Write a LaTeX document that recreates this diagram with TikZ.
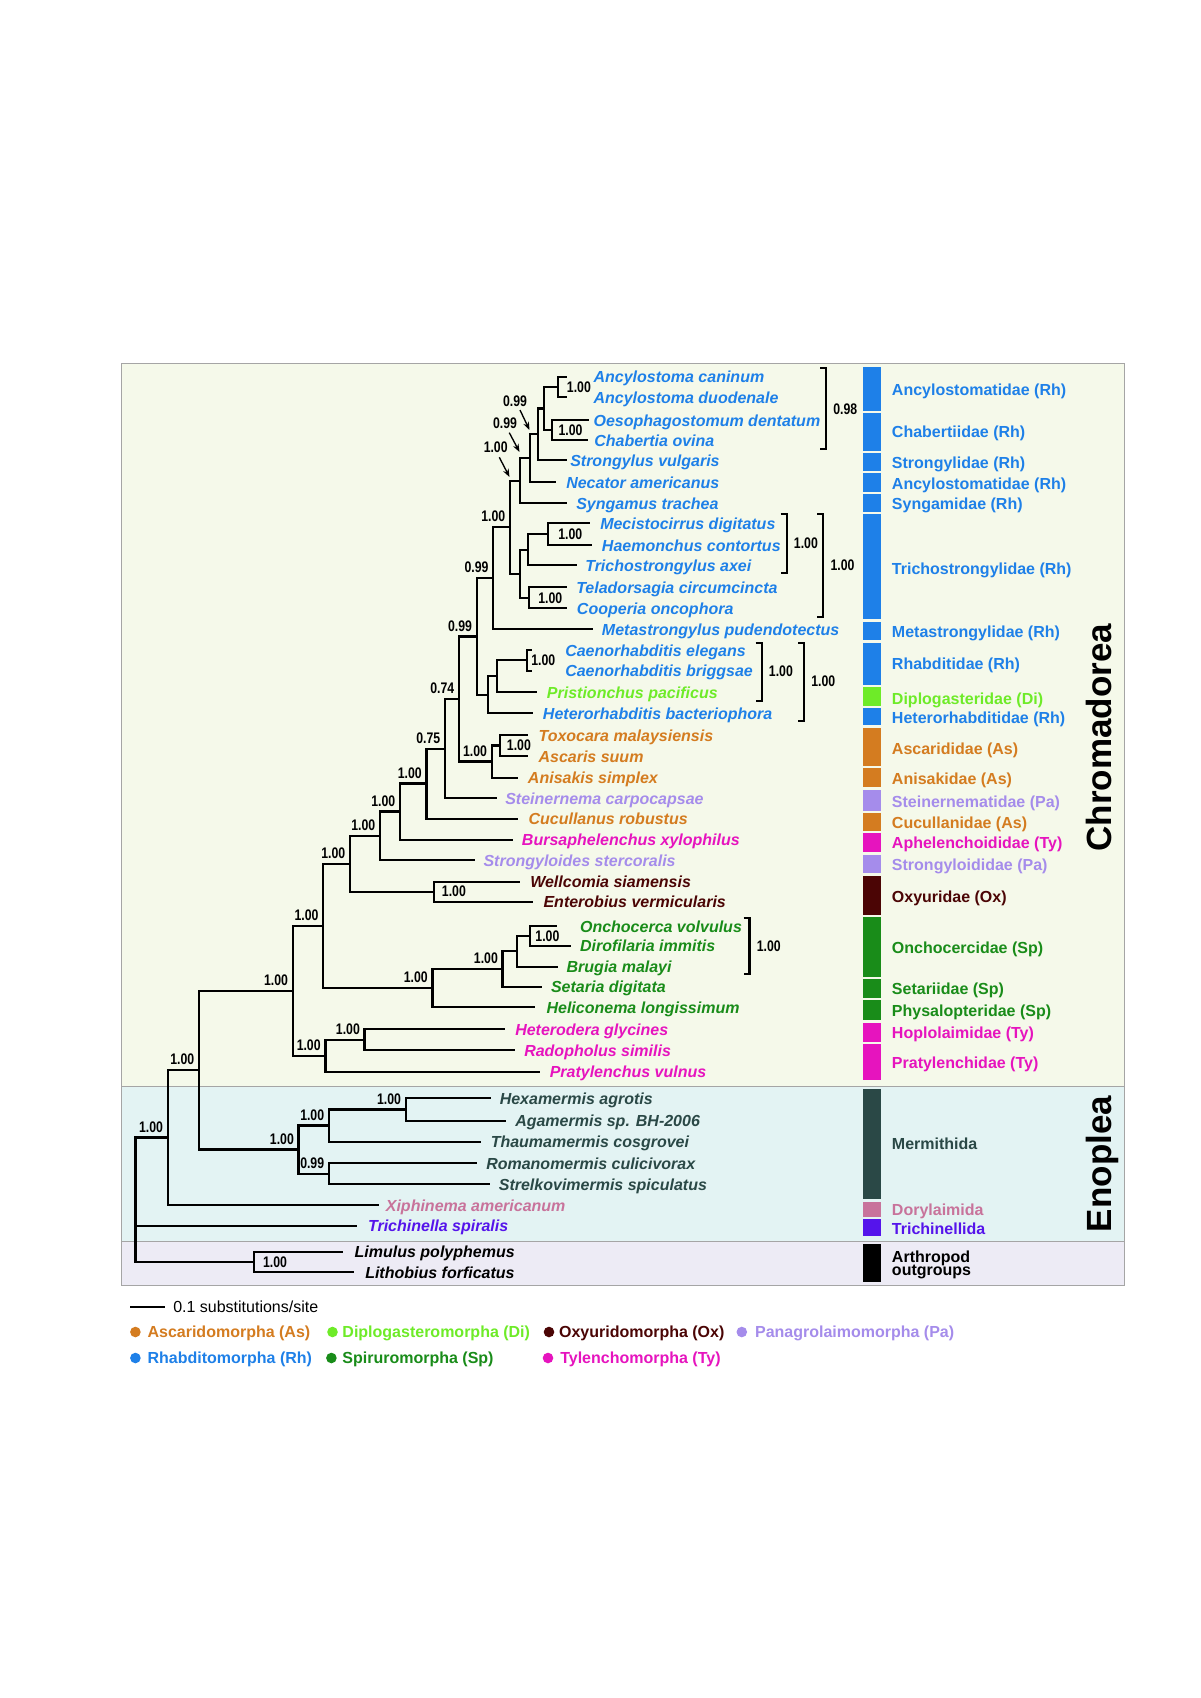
\documentclass[tikz,border=0pt]{standalone}
\usepackage{fontspec}
\setmainfont{Liberation Sans}
\newfontfamily\nrw[FakeStretch=0.8]{Liberation Sans}
\usetikzlibrary{arrows.meta}
\definecolor{rh}{RGB}{30,128,232}
\definecolor{di}{RGB}{110,235,40}
\definecolor{as}{RGB}{212,124,32}
\definecolor{pa}{RGB}{165,140,235}
\definecolor{ty}{RGB}{230,20,190}
\definecolor{ox}{RGB}{75,5,5}
\definecolor{sp}{RGB}{25,140,25}
\definecolor{me}{RGB}{42,72,70}
\definecolor{dor}{RGB}{200,115,155}
\definecolor{tri}{RGB}{85,20,235}
\definecolor{bgc}{RGB}{245,249,234}
\definecolor{bge}{RGB}{227,243,243}
\definecolor{bgo}{RGB}{237,235,245}
\definecolor{pgray}{RGB}{165,165,165}
\newcommand\tipn[6]{\coordinate (t#1) at (#2,#3); \node[tax,text=#5] (n#1) at (#4,#3+6) {#6};}
\newcommand\famb[6]{\fill[#3] (862.7,#1) rectangle (880.7,#2); \node[fam,text=#3] (#6) at (891.7,#4+5.8) {#5};}
\newcommand\sel[2]{\node[sup,anchor=south east] (s#1) at ([shift={(-4.5,-5)}]#1) {#2};}
\newcommand\ril[3]{\node[sup,anchor=west] (r#1) at ([shift={(#3,0)}]#1) {#2};}
\newcommand\brk[5]{\coordinate (b#1a) at (#2,#3); \coordinate (b#1b) at (#2,#4);
  \draw[brl] ([xshift=-4.5pt]b#1a) -- (b#1a) -- (b#1b) -- ([xshift=-4.5pt]b#1b);
  \node[sup,anchor=west] (bl#1) at (#2+7,{(#3+#4)/2}) {#5};}
\begin{document}
\begin{tikzpicture}[x=0.75pt,y=-0.75pt,
  br/.style={line width=1.75pt,line join=miter},
  brl/.style={line width=1.75pt},
  tax/.style={anchor=base west,inner sep=0pt,font=\bfseries\itshape\fontsize{12}{14}\selectfont},
  fam/.style={anchor=base west,inner sep=0pt,font=\bfseries\fontsize{12}{14}\selectfont},
  sup/.style={inner sep=0pt,font=\nrw\bfseries\fontsize{11.5}{13}\selectfont},
  arr/.style={line width=1pt,-{Stealth[length=6pt,width=4.5pt]}},
  leg/.style={anchor=base west,inner sep=0pt,font=\bfseries\fontsize{12}{14}\selectfont},
  big/.style={inner sep=0pt,anchor=base,rotate=90,font=\bfseries\fontsize{26.25}{30}\selectfont}]
\useasboundingbox (0,0) rectangle (1200,1698);
\fill[white] (0,0) rectangle (1200,1698);
% panels
\filldraw[fill=bgc,draw=pgray,line width=0.75pt] (121.5,363.9) rectangle (1124.2,1086);
\filldraw[fill=bge,draw=pgray,line width=0.75pt] (121.5,1086) rectangle (1124.2,1241);
\filldraw[fill=bgo,draw=pgray,line width=0.75pt] (121.5,1241) rectangle (1124.2,1285.6);
% tips
\tipn{1}{566.7}{376.7}{593.3}{rh}{Ancylostoma caninum}
\tipn{2}{566.7}{397.3}{593.3}{rh}{Ancylostoma duodenale}
\tipn{3}{589}{420}{593.3}{rh}{Oesophagostomum dentatum}
\tipn{4}{588}{440}{594}{rh}{Chabertia ovina}
\tipn{5}{566.7}{460}{570}{rh}{Strongylus vulgaris}
\tipn{6}{556}{482.3}{566}{rh}{Necator americanus}
\tipn{7}{566.7}{503.3}{576}{rh}{Syngamus trachea}
\tipn{8}{590}{523.3}{600}{rh}{Mecistocirrus digitatus}
\tipn{9}{591.7}{545.3}{601.7}{rh}{Haemonchus contortus}
\tipn{10}{576.7}{565}{585}{rh}{Trichostrongylus axei}
\tipn{11}{566.7}{587.3}{576}{rh}{Teladorsagia circumcincta}
\tipn{12}{566.7}{608.3}{576.7}{rh}{Cooperia oncophora}
\tipn{13}{593.3}{629.3}{601.7}{rh}{Metastrongylus pudendotectus}
\tipn{14}{532}{650}{565}{rh}{Caenorhabditis elegans}
\tipn{15}{532}{670.7}{565}{rh}{Caenorhabditis briggsae}
\tipn{16}{537.3}{692.3}{546.7}{di}{Pristionchus pacificus}
\tipn{17}{533.3}{713.3}{542.7}{rh}{Heterorhabditis bacteriophora}
\tipn{18}{528.3}{735}{538.3}{as}{Toxocara malaysiensis}
\tipn{19}{528.3}{756}{538.3}{as}{Ascaris suum}
\tipn{20}{518.3}{777.7}{527.7}{as}{Anisakis simplex}
\tipn{21}{496.7}{798.3}{505}{pa}{Steinernema carpocapsae}
\tipn{22}{518.3}{818.7}{528.3}{as}{Cucullanus robustus}
\tipn{23}{513.3}{839.7}{521.7}{ty}{Bursaphelenchus xylophilus}
\tipn{24}{475}{860}{483.3}{pa}{Strongyloides stercoralis}
\tipn{25}{520}{881.7}{530}{ox}{Wellcomia siamensis}
\tipn{26}{533.3}{901.7}{543.3}{ox}{Enterobius vermicularis}
\tipn{27}{556.6}{926}{579.8}{sp}{Onchocerca volvulus}
\tipn{28}{570.9}{945.7}{579.8}{sp}{Dirofilaria immitis}
\tipn{29}{557.5}{966.7}{566.4}{sp}{Brugia malayi}
\tipn{30}{541.9}{986.7}{550.8}{sp}{Setaria digitata}
\tipn{31}{535.2}{1007.3}{546.3}{sp}{Heliconema longissimum}
\tipn{32}{504.8}{1029.3}{515}{ty}{Heterodera glycines}
\tipn{33}{515}{1050}{524}{ty}{Radopholus similis}
\tipn{34}{539.6}{1071.7}{549.5}{ty}{Pratylenchus vulnus}
\tipn{35}{490.5}{1098.3}{499.5}{me}{Hexamermis agrotis}
\tipn{36}{506.2}{1120.7}{515}{me}{Agamermis sp. BH-2006}
\tipn{37}{480.7}{1141.7}{490.5}{me}{Thaumamermis cosgrovei}
\tipn{38}{477.1}{1163.3}{486}{me}{Romanomermis culicivorax}
\tipn{39}{489.6}{1184}{498.6}{me}{Strelkovimermis spiculatus}
\tipn{40}{378.9}{1205}{385.6}{dor}{Xiphinema americanum}
\tipn{41}{356.6}{1225.7}{367.8}{tri}{Trichinella spiralis}
\tipn{42}{343.2}{1251.7}{354.4}{black}{Limulus polyphemus}
\tipn{43}{354.4}{1272.3}{365}{black}{Lithobius forficatus}
% internal nodes
\coordinate (A) at (557.7,387);
\coordinate (B) at (551.7,430);
\coordinate (C) at (544,408.5);
\coordinate (D) at (538.3,434);
\coordinate (E) at (530,458);
\coordinate (F) at (520,480.8);
\coordinate (MH) at (548.3,534.3);
\coordinate (MHT) at (528.3,549.7);
\coordinate (TC) at (529.3,597.8);
\coordinate (TR) at (520,573.7);
\coordinate (G) at (510,527.2);
\coordinate (H) at (493.3,578.3);
\coordinate (CE) at (526.7,660.3);
\coordinate (CP) at (497.3,676.3);
\coordinate (CH) at (488.3,694.8);
\coordinate (I) at (476.7,636.5);
\coordinate (TA) at (500,745.5);
\coordinate (TAA) at (491.7,761.6);
\coordinate (J) at (459,699);
\coordinate (K) at (445,748.7);
\coordinate (L) at (426.5,783.6);
\coordinate (M) at (400,811.5);
\coordinate (N) at (380,835.8);
\coordinate (WE) at (434,891.7);
\coordinate (O) at (350,863.7);
\coordinate (V) at (529.8,935.9);
\coordinate (U) at (517.3,951.3);
\coordinate (T) at (502.6,969);
\coordinate (S) at (432.5,988.2);
\coordinate (P) at (323.2,925.9);
\coordinate (X) at (364.6,1039.7);
\coordinate (W) at (325.4,1055.7);
\coordinate (Q) at (292.8,990.8);
\coordinate (AB) at (405.7,1109.5);
\coordinate (AA) at (328.9,1125.6);
\coordinate (AC) at (328.9,1173.7);
\coordinate (Z) at (298.6,1149.6);
\coordinate (Y) at (199,1070.2);
\coordinate (EN) at (167.8,1137.6);
\coordinate (OG) at (253.9,1262);
\coordinate (ROOT) at (135.6,1200);
% branches
\foreach \p/\c in {A/t1,A/t2,B/t3,B/t4,C/A,C/B,D/C,D/t5,E/D,E/t6,F/E,F/t7,
  MH/t8,MH/t9,MHT/MH,MHT/t10,TC/t11,TC/t12,TR/MHT,TR/TC,G/F,G/TR,H/G,H/t13,
  CE/t14,CE/t15,CP/CE,CP/t16,CH/CP,CH/t17,I/H,I/CH,TA/t18,TA/t19,TAA/TA,TAA/t20,
  J/I,J/TAA,K/J,K/t21,L/K,L/t22,M/L,M/t23,N/M,N/t24,WE/t25,WE/t26,O/N,O/WE,
  V/t27,V/t28,U/V,U/t29,T/U,T/t30,S/T,S/t31,P/O,P/S,X/t32,X/t33,W/X,W/t34,Q/P,Q/W,
  AB/t35,AB/t36,AA/AB,AA/t37,AC/t38,AC/t39,Z/AA,Z/AC,Y/Q,Y/Z,EN/Y,EN/t40,
  OG/t42,OG/t43,ROOT/EN,ROOT/t41,ROOT/OG}
  {\draw[br] (\p) |- (\c);}
% support values above branches
\sel{G}{1.00}
\sel{H}{0.99}
\sel{I}{0.99}
\sel{J}{0.74}
\sel{K}{0.75}
\sel{L}{1.00}
\sel{M}{1.00}
\sel{N}{1.00}
\sel{O}{1.00}
\sel{P}{1.00}
\sel{Q}{1.00}
\sel{S}{1.00}
\sel{T}{1.00}
\sel{W}{1.00}
\sel{X}{1.00}
\sel{TAA}{1.00}
\sel{AA}{1.00}
\sel{AB}{1.00}
\sel{AC}{0.99}
\sel{Z}{1.00}
\sel{Y}{1.00}
\sel{EN}{1.00}
% support values right of nodes
\ril{A}{1.00}{9}
\ril{B}{1.00}{6.6}
\ril{MH}{1.00}{9.7}
\ril{TC}{1.00}{8.7}
\ril{CE}{1.00}{4.3}
\ril{TA}{1.00}{6.7}
\ril{V}{1.00}{5.4}
\ril{WE}{1.00}{7.7}
\ril{OG}{1.00}{9}
% arrow labels
\node[sup] (a1) at (515,401.7) {0.99};
\node[sup] (a2) at (505,423.3) {0.99};
\node[sup] (a3) at (495.7,447.3) {1.00};
\coordinate (a1e) at (529.5,430); \coordinate (a2e) at (519.5,452); \coordinate (a3e) at (509.5,477);
\draw[arr] (520,410) -- (a1e);
\draw[arr] (509.3,432.7) -- (a2e);
\draw[arr] (499.3,457.3) -- (a3e);
% brackets
\brk{1}{826}{368.3}{449.3}{0.98}
\brk{2}{786.7}{514}{573.3}{1.00}
\brk{3}{823.3}{514}{616.7}{1.00}
\brk{4}{761.7}{642.7}{700.7}{1.00}
\brk{5}{804}{642.7}{720.7}{1.00}
\brk{6}{749.5}{918}{974}{1.00}
% family bars
\famb{366.7}{410.7}{rh}{389.3}{Ancylostomatidae (Rh)}{f1}
\famb{412.7}{450.7}{rh}{431.7}{Chabertiidae (Rh)}{f2}
\famb{453.3}{471}{rh}{462.7}{Strongylidae (Rh)}{f3}
\famb{473.3}{491.7}{rh}{484}{Ancylostomatidae (Rh)}{f4}
\famb{494}{511.7}{rh}{504}{Syngamidae (Rh)}{f5}
\famb{514.3}{619.3}{rh}{568.3}{Trichostrongylidae (Rh)}{f6}
\famb{621.7}{640}{rh}{631.7}{Metastrongylidae (Rh)}{f7}
\famb{642.7}{685}{rh}{664}{Rhabditidae (Rh)}{f8}
\famb{687.3}{706}{di}{698.3}{Diplogasteridae (Di)}{f9}
\famb{708.3}{725}{rh}{717.7}{Heterorhabditidae (Rh)}{f10}
\famb{728.3}{766}{as}{748.3}{Ascarididae (As)}{f11}
\famb{768.3}{787.3}{as}{778.3}{Anisakidae (As)}{f12}
\famb{790}{810.7}{pa}{801.7}{Steinernematidae (Pa)}{f13}
\famb{813.3}{830.7}{as}{822.7}{Cucullanidae (As)}{f14}
\famb{833.3}{852.3}{ty}{842.7}{Aphelenchoididae (Ty)}{f15}
\famb{855}{873.3}{pa}{865}{Strongyloididae (Pa)}{f16}
\famb{876}{915}{ox}{896.7}{Oxyuridae (Ox)}{f17}
\famb{917.3}{976.7}{sp}{947.3}{Onchocercidae (Sp)}{f18}
\famb{979}{997.7}{sp}{989}{Setariidae (Sp)}{f19}
\famb{1000}{1020}{sp}{1010.7}{Physalopteridae (Sp)}{f20}
\famb{1022.7}{1041.7}{ty}{1032.3}{Hoplolaimidae (Ty)}{f21}
\famb{1044}{1080}{ty}{1062.3}{Pratylenchidae (Ty)}{f22}
\famb{1089.3}{1199.3}{me}{1143.3}{Mermithida}{f23}
\famb{1201.7}{1217.3}{dor}{1210}{Dorylaimida}{f24}
\famb{1219.3}{1236}{tri}{1228.3}{Trichinellida}{f25}
\famb{1244}{1281.7}{black}{1256.7}{Arthropod}{f26}
\node[fam] (f27) at (891.7,1275.5) {outgroups};
% class labels
\node[big] (chrom) at (1111.5,737.5) {Chromadorea};
\node[big] (enop) at (1111.5,1164) {Enoplea};
% legend
\coordinate (sb1) at (130,1307); \coordinate (sb2) at (164.6,1307);
\draw[line width=1.5pt] (sb1) -- (sb2);
\node[anchor=base west,inner sep=0pt,font=\fontsize{12}{14}\selectfont] (sbl) at (173,1312.5) {0.1 substitutions/site};
\fill[as] (135.4,1332) circle (5.3);
\node[leg,text=as] (l1) at (147.3,1337.5) {Ascaridomorpha (As)};
\fill[di] (332.5,1332) circle (5.3);
\node[leg,text=di] (l2) at (342.2,1337.5) {Diplogasteromorpha (Di)};
\fill[ox] (549,1332) circle (5.3);
\node[leg,text=ox] (l3) at (558.8,1337.5) {Oxyuridomorpha (Ox)};
\fill[pa] (741.8,1332) circle (5.3);
\node[leg,text=pa] (l4) at (754.8,1337.5) {Panagrolaimomorpha (Pa)};
\fill[rh] (135.4,1358) circle (5.3);
\node[leg,text=rh] (l5) at (147.3,1363.5) {Rhabditomorpha (Rh)};
\fill[sp] (331.4,1358) circle (5.3);
\node[leg,text=sp] (l6) at (342.2,1363.5) {Spiruromorpha (Sp)};
\fill[ty] (548,1358) circle (5.3);
\node[leg,text=ty] (l7) at (560,1363.5) {Tylenchomorpha (Ty)};
\end{tikzpicture}
\end{document}
